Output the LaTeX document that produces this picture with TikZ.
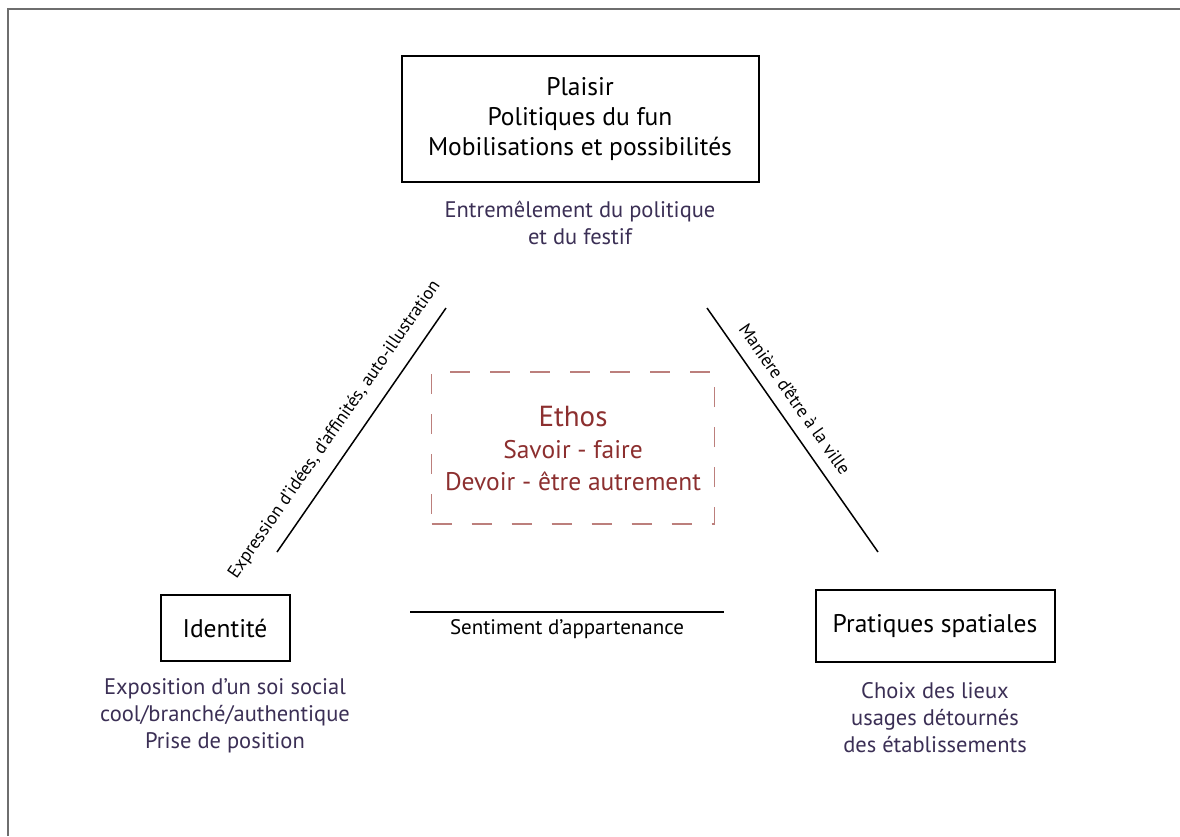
\documentclass[tikz,border=0pt]{standalone}
\usepackage{fontspec}
\setmainfont{PT Sans}
\usetikzlibrary{positioning}
\definecolor{noteText}{HTML}{3B2F55}
\definecolor{ethosText}{HTML}{8C2F2F}
\definecolor{ethosDash}{HTML}{BC7F7C}
\definecolor{frameGrey}{HTML}{6E6E6E}

\begin{document}
\begin{tikzpicture}[x=1pt, y=-1pt,
    boxNode/.style={draw, line width=2pt, align=center, inner sep=0pt, font=\fontsize{25.5}{30}\selectfont},
    noteNode/.style={align=center, text=noteText, font=\fontsize{22.5}{27}\selectfont},
    ethosNode/.style={draw=ethosDash, line width=1.3pt, dash pattern=on 20pt off 20pt, align=center, text=ethosText, font=\fontsize{25.5}{32}\selectfont},
    linkLine/.style={line width=1.5pt},
    linkLabel/.style={sloped, font=\fontsize{18}{20}\selectfont}
  ]
  \useasboundingbox (0,0) rectangle (1180,836);

  % Frame
  \draw[frameGrey, line width=2pt] (8,836) -- (8,9) -- (1180,9);

  % Poles
  \node[boxNode, minimum width=357pt, minimum height=126pt] (plaisir) at (580,119) {Plaisir\\Politiques du fun\\Mobilisations et possibilités};
  \node[boxNode, minimum width=129pt, minimum height=66pt] (identite) at (225,628) {Identité};
  \node[boxNode, minimum width=239pt, minimum height=72pt] (pratiques) at (935,626) {Pratiques spatiales};

  % Notes
  \node[noteNode, below=14pt of plaisir] (plaisirNote) {Entremêlement du politique\\et du festif};
  \node[noteNode, below=13pt of identite] (identiteNote) {Exposition d’un soi social\\cool/branché/authentique\\Prise de position};
  \node[noteNode, below=16pt of pratiques] (pratiquesNote) {Choix des lieux\\usages détournés\\des établissements};

  % Centre
  \node[ethosNode, minimum width=283pt, minimum height=152pt] (ethos) at (573,448) {{\fontsize{29}{32}\selectfont Ethos}\\Savoir - faire\\Devoir - être autrement};

  % Links
  \coordinate (leftLow) at (277,552);
  \coordinate (leftHigh) at (446,308);
  \coordinate (rightHigh) at (707,308);
  \coordinate (rightLow) at (878,552);
  \coordinate (baseLeft) at (410,612);
  \coordinate (baseRight) at (724,612);

  \draw[linkLine] (leftLow) -- node[linkLabel, above=10pt, pos=0.45] {Expression d’idées, d’affinités, auto-illustration} (leftHigh);
  \draw[linkLine] (rightHigh) -- node[linkLabel, above=9pt, pos=0.42] {Manière d’être à la ville} (rightLow);
  \draw[linkLine] (baseLeft) -- node[below=3pt, font=\fontsize{21}{24}\selectfont] (belonging) {Sentiment d’appartenance} (baseRight);

\end{tikzpicture}
\end{document}
